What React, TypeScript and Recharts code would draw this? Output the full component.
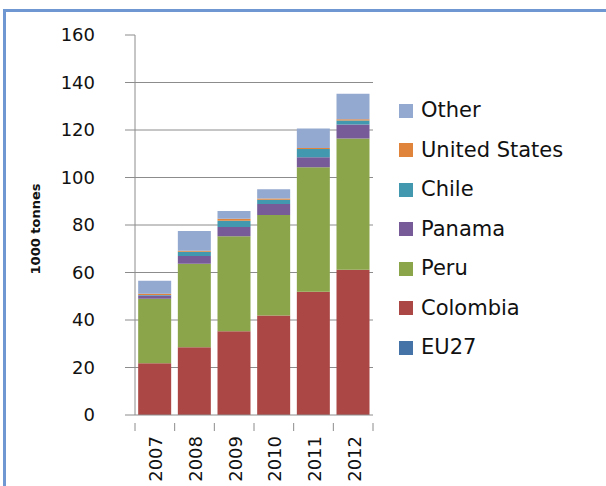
import { BarChart, Bar, XAxis, YAxis, CartesianGrid } from 'recharts'

const years = ['2007', '2008', '2009', '2010', '2011', '2012']
const eu27 = [0, 0, 0, 0, 0, 0]
const colombia = [21.8, 28.5, 35.3, 41.9, 51.9, 61.2]
const peru = [27.2, 35.2, 40.0, 42.3, 52.4, 55.2]
const panama = [1.3, 3.3, 3.9, 4.6, 4.2, 5.9]
const chile = [0.2, 1.7, 2.6, 1.8, 3.5, 1.7]
const unitedStates = [0.6, 0.5, 0.8, 0.6, 0.4, 0.5]
const other = [5.4, 8.3, 3.3, 3.9, 8.2, 10.8]
const yTicks = [0, 20, 40, 60, 80, 100, 120, 140, 160]

const series = [
  { key: 'EU27', values: eu27, color: '#4573a7' },
  { key: 'Colombia', values: colombia, color: '#ab4745' },
  { key: 'Peru', values: peru, color: '#8ba54b' },
  { key: 'Panama', values: panama, color: '#775b98' },
  { key: 'Chile', values: chile, color: '#4198af' },
  { key: 'United States', values: unitedStates, color: '#e0843c' },
  { key: 'Other', values: other, color: '#93a9cf' },
]

const data = years.map((year, i) => {
  const row: Record<string, string | number> = { year }
  for (const s of series) row[s.key] = s.values[i]
  return row
})

const W = 606
const H = 486
const LEFT = 135
const RIGHT = 233
const TOP = 35
const BOTTOM = 71
const band = (W - LEFT - RIGHT) / years.length
const FONT = 'DejaVu Sans'

function YearTick(props: any) {
  const { x, y, payload, index } = props
  const last = index === years.length - 1
  return (
    <g>
      <line x1={x - band / 2} x2={x - band / 2} y1={y} y2={y + 8} stroke="#8c8c8c" />
      {last && <line x1={x + band / 2} x2={x + band / 2} y1={y} y2={y + 8} stroke="#8c8c8c" />}
      <text
        x={x + 1}
        y={y + 13}
        transform={`rotate(-90 ${x + 1} ${y + 13})`}
        textAnchor="end"
        dominantBaseline="central"
        fontSize={18}
        fontFamily={FONT}
        fill="#111"
      >
        {payload.value}
      </text>
    </g>
  )
}

function LegendList() {
  const items = [...series].reverse()
  return (
    <div style={{ position: 'absolute', left: 399, top: 91, fontFamily: FONT }}>
      {items.map((s) => (
        <div key={s.key} style={{ height: 39.5, display: 'flex', alignItems: 'center' }}>
          <span style={{ width: 14, height: 14, background: s.color, display: 'inline-block', marginRight: 8 }} />
          <span style={{ fontSize: 21, color: '#111', lineHeight: '21px', whiteSpace: 'nowrap' }}>{s.key}</span>
        </div>
      ))}
    </div>
  )
}

export default function App() {
  return (
    <div style={{ position: 'absolute', left: 0, top: 0, width: W, height: H, background: '#fff' }}>
      <div
        style={{
          position: 'absolute',
          left: 3,
          top: 9,
          right: 0,
          bottom: 0,
          borderTop: '3px solid #6f98d2',
          borderLeft: '3px solid #6f98d2',
        }}
      />
      <div
        style={{
          position: 'absolute',
          left: 35,
          top: 229,
          transform: 'translate(-50%, -50%) rotate(-90deg)',
          fontFamily: FONT,
          fontWeight: 'bold',
          fontSize: 13,
          whiteSpace: 'nowrap',
          color: '#111',
        }}
      >
        1000 tonnes
      </div>
      <div style={{ position: 'absolute', left: 0, top: 0 }}>
        <BarChart
          width={W}
          height={H}
          data={data}
          margin={{ top: TOP, right: RIGHT, bottom: 0, left: 0 }}
          barCategoryGap="8%"
        >
          <CartesianGrid vertical={false} stroke="#8c8c8c" horizontalValues={[20, 40, 60, 80, 100, 120, 140]} />
          <XAxis
            dataKey="year"
            tickLine={false}
            axisLine={{ stroke: '#8c8c8c' }}
            tick={<YearTick />}
            interval={0}
            height={BOTTOM}
          />
          <YAxis
            width={LEFT}
            domain={[0, 160]}
            ticks={yTicks}
            interval={0}
            tickSize={10}
            tickMargin={30}
            axisLine={{ stroke: '#8c8c8c' }}
            tickLine={{ stroke: '#8c8c8c' }}
            tick={{ fontSize: 18, fontFamily: FONT, fill: '#111' }}
          />
          {series.map((s) => (
            <Bar key={s.key} dataKey={s.key} stackId="a" fill={s.color} isAnimationActive={false} />
          ))}
        </BarChart>
      </div>
      <LegendList />
    </div>
  )
}
